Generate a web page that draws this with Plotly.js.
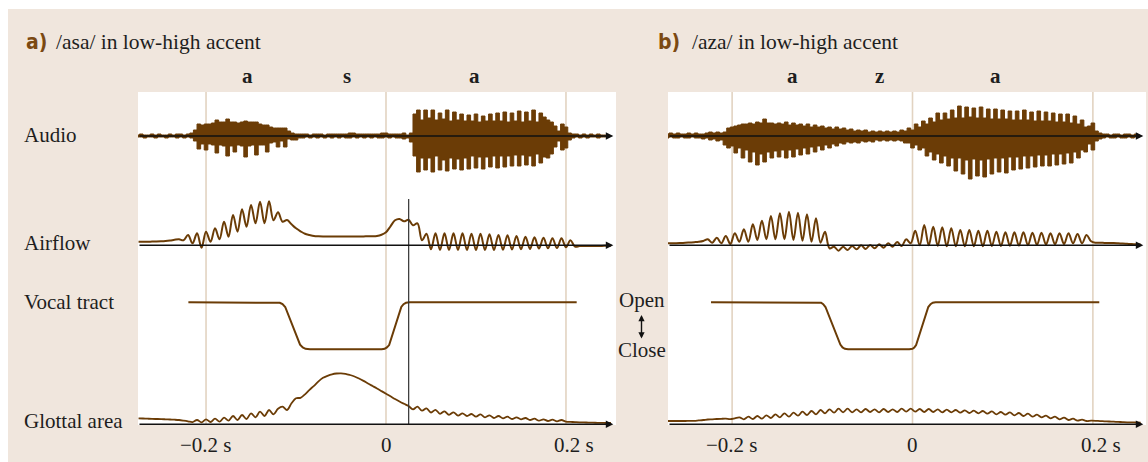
<!DOCTYPE html>
<html><head><meta charset="utf-8">
<script src="https://cdn.plot.ly/plotly-3.0.1.min.js"></script>
<style>html,body{margin:0;padding:0;background:#fff}#chart{width:1148px;height:462px}</style>
</head><body><div id="chart"></div>
<script>
// ================= DATA =================
const SIGNAL_LABELS = ['Audio', 'Airflow', 'Vocal tract', 'Glottal area'];
const PANEL_LETTERS = ['a)', 'b)'];
const PANEL_TITLES = ['/asa/ in low-high accent', '/aza/ in low-high accent'];
const SEG_A = ['a', 's', 'a'];
const SEG_A_T = [-0.1544, -0.0439, 0.0989];
const SEG_B = ['a', 'z', 'a'];
const SEG_B_T = [-0.1330, -0.0371, 0.0920];
const TICK_VALS = [-0.2, 0, 0.2];
const TICK_TEXT = ['\u22120.2 s', '0', '0.2 s'];
const CURSOR_T_A = 0.0252;               // black vertical cursor in panel a (s)
const OPEN_CLOSE = ['Open', 'Close'];

// audio: upper / lower envelope of the waveform, sampled every 4 ms
const AUDIO_DT = 0.004, AUDIO_T0_A = -0.276, AUDIO_T0_B = -0.272;
const AUDIO_UP_A = [1,2,1,1,2,1,2,1,1,2,1,2,2,1,
2,3,6,12,11,12,12,13,16,14,14,17,14,14,13,14,15,14,14,14,12,11,11,9,8,8,8,8,5,3,2,2,
2,2,1,2,2,2,1,2,2,2,2,2,2,3,3,2,2,2,2,2,2,2,3,3,2,2,2,2,3,
1,3,22,26,16,26,18,26,16,23,17,26,15,24,16,22,15,21,15,22,14,20,15,22,15,23,15,24,14,23,15,25,14,24,15,26,14,23,19,16,14,10,5,12,9,3,
2,2,1,2,1,2,1,2,1,1,1];
const AUDIO_LO_A = [-1,-1,-2,-1,-1,-2,-1,-1,-2,-1,-1,-2,-1,-2,
-1,-2,-5,-13,-8,-14,-8,-9,-17,-9,-10,-20,-10,-16,-9,-10,-21,-10,-9,-19,-9,-9,-16,-7,-6,-11,-5,-11,-3,-4,-4,-2,
-2,-1,-2,-1,-2,-1,-2,-1,-2,-1,-2,-1,-2,-2,-1,-2,-1,-2,-1,-2,-1,-2,-2,-1,-2,-1,-2,-2,-3,
-2,-6,-20,-36,-22,-34,-22,-36,-20,-34,-24,-35,-22,-33,-23,-34,-22,-33,-20,-32,-21,-33,-21,-31,-20,-32,-20,-31,-20,-30,-19,-30,-19,-29,-20,-30,-18,-27,-21,-22,-18,-11,-5,-14,-12,-4,
-2,-1,-2,-1,-2,-1,-1,-2,-1,-1,-1];
const AUDIO_UP_B = [2,3,2,3,2,2,3,2,3,2,
2,3,4,3,4,3,4,
8,9,10,11,12,12,13,12,14,13,
17,13,13,12,13,12,14,11,13,11,
12,10,12,9,11,9,10,8,9,7,
9,7,8,6,7,5,6,5,6,4,
5,4,5,4,5,4,5,4,6,5,
8,6,12,9,15,12,18,14,23,16,
23,17,26,18,30,18,29,19,28,18,
29,18,27,17,27,17,26,17,25,16,
25,16,26,16,24,15,25,15,24,15,
23,14,22,14,22,13,20,12,16,9,
10,13,5,3,
2,2,1,2,2,1,2,2,1,2,1];
const AUDIO_LO_B = [-2,-1,-2,-2,-1,-2,-2,-1,-2,-2,
-3,-2,-4,-3,-5,-4,-9,
-12,-10,-17,-12,-22,-14,-26,-16,-29,-18,
-26,-16,-22,-15,-21,-14,-22,-14,-21,-13,
-19,-12,-18,-11,-16,-10,-14,-9,-12,-8,
-10,-7,-8,-6,-7,-6,-7,-5,-6,-5,
-6,-4,-5,-4,-5,-4,-5,-4,-5,-7,
-7,-12,-9,-14,-12,-20,-16,-24,-18,-27,
-20,-30,-22,-35,-22,-38,-24,-43,-23,-40,
-24,-41,-23,-38,-22,-36,-22,-37,-21,-34,
-21,-33,-20,-32,-20,-31,-19,-30,-19,-30,
-18,-29,-18,-28,-17,-27,-16,-22,-14,-16,
-8,-14,-5,-3,
-2,-1,-2,-2,-1,-2,-2,-1,-2,-1,-1];

// airflow and glottal area, sampled every 5 ms
const CURVE_DT = 0.005, CURVE_T0_A = -0.275, CURVE_T0_B = -0.272;
const AIRFLOW_A = [3.6,3.6,3.6,3.7,3.8,4.0,4.3,4.8,5.5,6.0,
5.0,10.3,2.0,12.0,-2.4,13.6,3.6,17.0,6.0,23.6,
8.6,30.3,13.6,36.0,18.6,40.3,22.0,43.6,22.0,44.0,
25.0,33.0,23.6,25.3,21.0,17.0,14.0,11.5,10.3,9.3,
9.0,8.8,8.7,8.7,8.7,8.7,8.8,8.8,8.8,8.9,
8.9,9.0,9.0,9.3,10.5,13.0,19.0,25.0,26.3,24.0,
25.5,20.0,22.0,5.0,11.5,-4.0,12.0,-4.7,12.0,-4.7,
12.0,-4.7,12.0,-4.7,11.6,-4.7,11.6,-4.7,11.0,-4.7,
10.3,-4.5,10.0,-4.3,9.3,-4.0,8.6,-3.7,8.0,-3.3,
7.5,-3.0,7.0,-2.8,7.0,-2.0,5.0,-1.4,-0.8,-0.7,
-0.7,-0.6,-0.6,-0.6,-0.5,-0.5];
const GLOTTAL_A = [6.0,5.8,5.6,5.4,5.3,5.2,5.0,4.8,4.6,4.3,
3.7,3.0,2.2,4.3,2.0,5.0,2.3,5.6,2.6,6.6,
3.6,8.3,4.3,9.3,5.3,11.0,7.0,12.6,8.3,14.3,
10.0,15.5,17.6,14.3,21.0,26.0,26.5,30.0,34.5,38.5,
43.0,46.5,48.5,50.0,50.8,51.0,50.5,49.3,47.8,45.8,
43.4,40.8,38.3,35.8,33.2,30.6,28.0,25.3,22.8,20.5,
18.3,15.0,17.6,13.6,16.0,11.8,14.5,10.5,13.0,9.5,
12.0,8.7,11.0,8.3,10.3,7.6,10.0,7.0,9.0,6.3,
8.3,6.0,7.6,5.3,7.0,5.0,6.3,4.3,5.6,3.6,
5.0,3.3,4.6,3.0,4.3,2.6,2.4,2.2,2.0,1.9,
1.7,1.6,1.5,1.4,1.3,1.3];
const AIRFLOW_B = [2.0,2.0,2.1,2.3,2.5,2.8,3.1,3.5,4.3,6.0,
2.6,7.6,2.0,9.3,1.3,12.0,3.6,16.0,3.6,21.0,
5.3,24.6,6.0,29.3,6.0,32.0,6.0,33.6,5.3,32.6,
4.6,31.0,3.6,27.0,2.6,13.6,-3.0,-1.4,-5.4,-1.4,
-4.7,-0.7,-4.0,0.0,-3.7,0.3,-3.0,1.0,-2.4,2.0,
-1.4,3.3,-0.7,6.0,2.0,14.6,0.0,20.3,0.0,18.6,
-0.5,18.0,-1.0,17.0,-1.0,15.3,-1.0,15.3,-1.0,14.6,
-1.0,14.6,-0.7,13.6,-0.7,13.0,-0.4,13.0,-0.3,13.0,
0.0,12.6,0.3,12.6,0.8,12.0,1.0,12.0,1.3,12.0,
2.0,11.3,2.0,10.3,4.0,2.6,2.6,2.4,2.3,2.2,
2.0,1.8,1.5,1.2,1.0,0.8];
const GLOTTAL_B = [3.3,3.3,3.3,3.3,3.3,3.4,3.5,3.9,4.3,4.8,
5.0,5.3,5.5,5.6,5.2,6.0,7.0,5.0,7.6,5.3,
8.3,5.6,9.0,6.3,10.0,7.0,11.0,7.6,11.6,8.6,
12.6,9.3,13.3,10.0,14.3,11.0,15.0,11.6,15.6,12.0,
15.6,12.0,15.0,12.0,15.3,12.3,15.0,12.0,15.3,12.3,
15.0,12.3,15.6,12.6,15.6,12.6,15.3,12.3,15.3,12.3,
15.0,12.0,14.6,12.0,14.3,11.6,14.0,11.3,13.6,11.0,
13.3,10.6,13.0,10.0,12.3,9.6,12.0,9.0,11.3,8.3,
10.6,7.6,9.6,7.0,8.6,6.0,7.6,5.0,6.6,4.3,
5.6,3.6,4.6,3.3,3.6,3.5,3.2,3.0,2.8,2.6,
2.4,2.2,2.0,1.9,1.8,1.7];

// vocal tract opening (1 = open, 0 = closed)
const VT_A_T = [-0.2196,-0.1215,-0.1180,-0.1150,-0.1120,-0.0955,-0.0925,-0.0895,-0.0844,-0.0048,-0.0015,0.0010,0.0035,0.0170,0.0195,0.0222,0.0262,0.2119];
const VT_A   = [1,1,0.99,0.96,0.90,0.10,0.04,0.01,0,0,0.01,0.04,0.09,0.90,0.96,0.99,1,1];
const VT_B_T = [-0.2234,-0.1043,-0.1013,-0.0990,-0.0965,-0.0800,-0.0776,-0.0750,-0.0714,-0.0035,0.0000,0.0020,0.0040,0.0175,0.0200,0.0225,0.0256,0.2071];
const VT_B   = [1,1,0.99,0.96,0.90,0.10,0.04,0.01,0,0,0.01,0.04,0.09,0.90,0.96,0.99,1,1];

// ================= STYLE / LAYOUT =================
const W = 1148, H = 462;
const px = p => p / W, py = p => 1 - p / H;
const BROWN = '#6b3c06';
const BEIGE = '#f0e6dd';
const GUIDE = '#e2d3c1';
const INK = '#1e1e1e';
const SERIF = '"Liberation Serif", "Times New Roman", serif';
const SANS_C = '"DejaVu Sans Condensed", "Liberation Sans Narrow", "DejaVu Sans", sans-serif';

const grid = (t0, dt, n) => Array.from({length: n}, (_, i) => +(t0 + i * dt).toFixed(4));

const panels = [
  {x: 'x', ys: ['y', 'y2', 'y3', 'y4'], dom: [138, 616], range: [-0.2756, 0.2556], arrowEnd: 0.2526,
   up: AUDIO_UP_A, lo: AUDIO_LO_A, at0: AUDIO_T0_A, ct0: CURVE_T0_A, air: AIRFLOW_A, glot: GLOTTAL_A,
   vtT: VT_A_T, vt: VT_A, seg: SEG_A, segT: SEG_A_T, letterX: 24, titleX: 54},
  {x: 'x2', ys: ['y5', 'y6', 'y7', 'y8'], dom: [668, 1146], range: [-0.2711, 0.2589], arrowEnd: 0.2559,
   up: AUDIO_UP_B, lo: AUDIO_LO_B, at0: AUDIO_T0_B, ct0: CURVE_T0_B, air: AIRFLOW_B, glot: GLOTTAL_B,
   vtT: VT_B_T, vt: VT_B, seg: SEG_B, segT: SEG_B_T, letterX: 656, titleX: 690}
];
// rows: pixel domains and value ranges (1 unit = 1 px except vocal tract)
const ROW_DOM = [[92, 182], [190, 255.3], [290, 360], [362, 426.3]];
const ROW_RANGE = [[-46, 44], [-10, 55.3], [-0.2277, 1.2617], [-2, 62.3]];
const ROW_HAS_AXIS = [true, true, false, true];
const ROW_LABEL_Y = [135, 243, 302, 421];

const traces = [];
const layout = {
  width: W, height: H, margin: {l: 0, r: 0, t: 0, b: 0},
  paper_bgcolor: '#ffffff', plot_bgcolor: 'rgba(0,0,0,0)', showlegend: false,
  shapes: [], annotations: []
};
layout.shapes.push({type: 'rect', xref: 'paper', yref: 'paper', x0: px(8), x1: 1, y0: 0, y1: py(9),
  fillcolor: BEIGE, line: {width: 0}, layer: 'below'});

panels.forEach((p, pi) => {
  const xName = pi === 0 ? 'xaxis' : 'xaxis2';
  layout[xName] = {domain: [px(p.dom[0]), px(p.dom[1])], range: p.range, visible: false,
    anchor: p.ys[3], fixedrange: true};
  p.ys.forEach((yid, r) => {
    const yName = 'yaxis' + (yid === 'y' ? '' : yid.slice(1));
    layout[yName] = {domain: [py(ROW_DOM[r][1]), py(ROW_DOM[r][0])], range: ROW_RANGE[r],
      visible: false, anchor: p.x, fixedrange: true};
    if (ROW_HAS_AXIS[r]) {
      layout.annotations.push({xref: p.x, yref: yid, x: p.arrowEnd, y: 0, axref: p.x, ayref: yid,
        ax: p.range[0], ay: 0, showarrow: true, arrowhead: 2, arrowsize: 1, arrowwidth: 1.5,
        arrowcolor: '#111', text: '', standoff: 0, startstandoff: 0});
    }
  });
  // white plotting area
  layout.shapes.push({type: 'rect', xref: 'paper', yref: 'paper', x0: px(p.dom[0]), x1: px(p.dom[1]),
    y0: py(425), y1: py(92), fillcolor: '#ffffff', line: {width: 0}, layer: 'below'});
  // guide lines at the tick times
  TICK_VALS.forEach(v => layout.shapes.push({type: 'line', xref: p.x, yref: 'paper', x0: v, x1: v,
    y0: py(425), y1: py(92), line: {color: GUIDE, width: 1.6}, layer: 'below'}));

  // audio: filled upper and lower envelopes
  const at = grid(p.at0, AUDIO_DT, p.up.length);
  [p.up, p.lo].forEach(env => traces.push({type: 'scatter', mode: 'lines', x: at, y: env,
    fill: 'tozeroy', fillcolor: BROWN, line: {color: BROWN, width: 1, shape: 'hvh'},
    xaxis: p.x, yaxis: p.ys[0], hoverinfo: 'skip'}));
  // airflow
  traces.push({type: 'scatter', mode: 'lines', x: grid(p.ct0, CURVE_DT, p.air.length), y: p.air,
    line: {color: BROWN, width: 2, shape: 'spline', smoothing: 1}, xaxis: p.x, yaxis: p.ys[1], hoverinfo: 'skip'});
  // vocal tract
  traces.push({type: 'scatter', mode: 'lines', x: p.vtT, y: p.vt,
    line: {color: BROWN, width: 2}, xaxis: p.x, yaxis: p.ys[2], hoverinfo: 'skip'});
  // glottal area
  traces.push({type: 'scatter', mode: 'lines', x: grid(p.ct0, CURVE_DT, p.glot.length), y: p.glot,
    line: {color: BROWN, width: 1.8, shape: 'spline', smoothing: 1}, xaxis: p.x, yaxis: p.ys[3], hoverinfo: 'skip'});

  // tick labels
  const shifts = [0, 0, 8];
  TICK_VALS.forEach((v, k) => layout.annotations.push({xref: p.x, yref: 'paper', x: v, y: py(444.5),
    text: TICK_TEXT[k], showarrow: false, xanchor: 'center', yanchor: 'middle', xshift: shifts[k],
    font: {family: SERIF, size: 21, color: INK}}));
  // segment labels
  p.seg.forEach((s, k) => layout.annotations.push({xref: p.x, yref: 'paper', x: p.segT[k], y: py(75.5),
    text: '<b>' + s + '</b>', showarrow: false, xanchor: 'center', yanchor: 'middle',
    font: {family: SERIF, size: 21, color: INK}}));
  // panel letter + title
  layout.annotations.push({xref: 'paper', yref: 'paper', x: px(p.letterX), y: py(42), text: '<b>' + PANEL_LETTERS[pi] + '</b>',
    showarrow: false, xanchor: 'left', yanchor: 'middle', font: {family: SANS_C, size: 21, color: '#7b4912'}});
  layout.annotations.push({xref: 'paper', yref: 'paper', x: px(p.titleX), y: py(42.5), text: PANEL_TITLES[pi],
    showarrow: false, xanchor: 'left', yanchor: 'middle', font: {family: SERIF, size: 21.5, color: INK}});
});

// cursor line in panel a
layout.shapes.push({type: 'line', xref: 'x', yref: 'paper', x0: CURSOR_T_A, x1: CURSOR_T_A,
  y0: py(424), y1: py(199), line: {color: '#333', width: 1.2}, layer: 'above'});

// row labels
SIGNAL_LABELS.forEach((s, r) => layout.annotations.push({xref: 'paper', yref: 'paper', x: px(22), y: py(ROW_LABEL_Y[r]),
  text: s, showarrow: false, xanchor: 'left', yanchor: 'middle', font: {family: SERIF, size: 21, color: INK}}));

// Open / Close with double arrow
layout.annotations.push({xref: 'paper', yref: 'paper', x: px(642), y: py(299.5), text: OPEN_CLOSE[0], showarrow: false,
  xanchor: 'center', yanchor: 'middle', font: {family: SERIF, size: 21, color: INK}});
layout.annotations.push({xref: 'paper', yref: 'paper', x: px(642), y: py(350), text: OPEN_CLOSE[1], showarrow: false,
  xanchor: 'center', yanchor: 'middle', font: {family: SERIF, size: 21, color: INK}});
layout.annotations.push({xref: 'paper', yref: 'paper', x: px(641.5), y: py(315), ax: 0, ay: 25, text: '',
  showarrow: true, arrowside: 'end+start', arrowhead: 2, startarrowhead: 2, arrowsize: 0.9, startarrowsize: 0.9,
  arrowwidth: 1.4, arrowcolor: '#111', standoff: 0, startstandoff: 0});

Plotly.newPlot('chart', traces, layout, {staticPlot: true, displayModeBar: false});
</script>
</body></html>
